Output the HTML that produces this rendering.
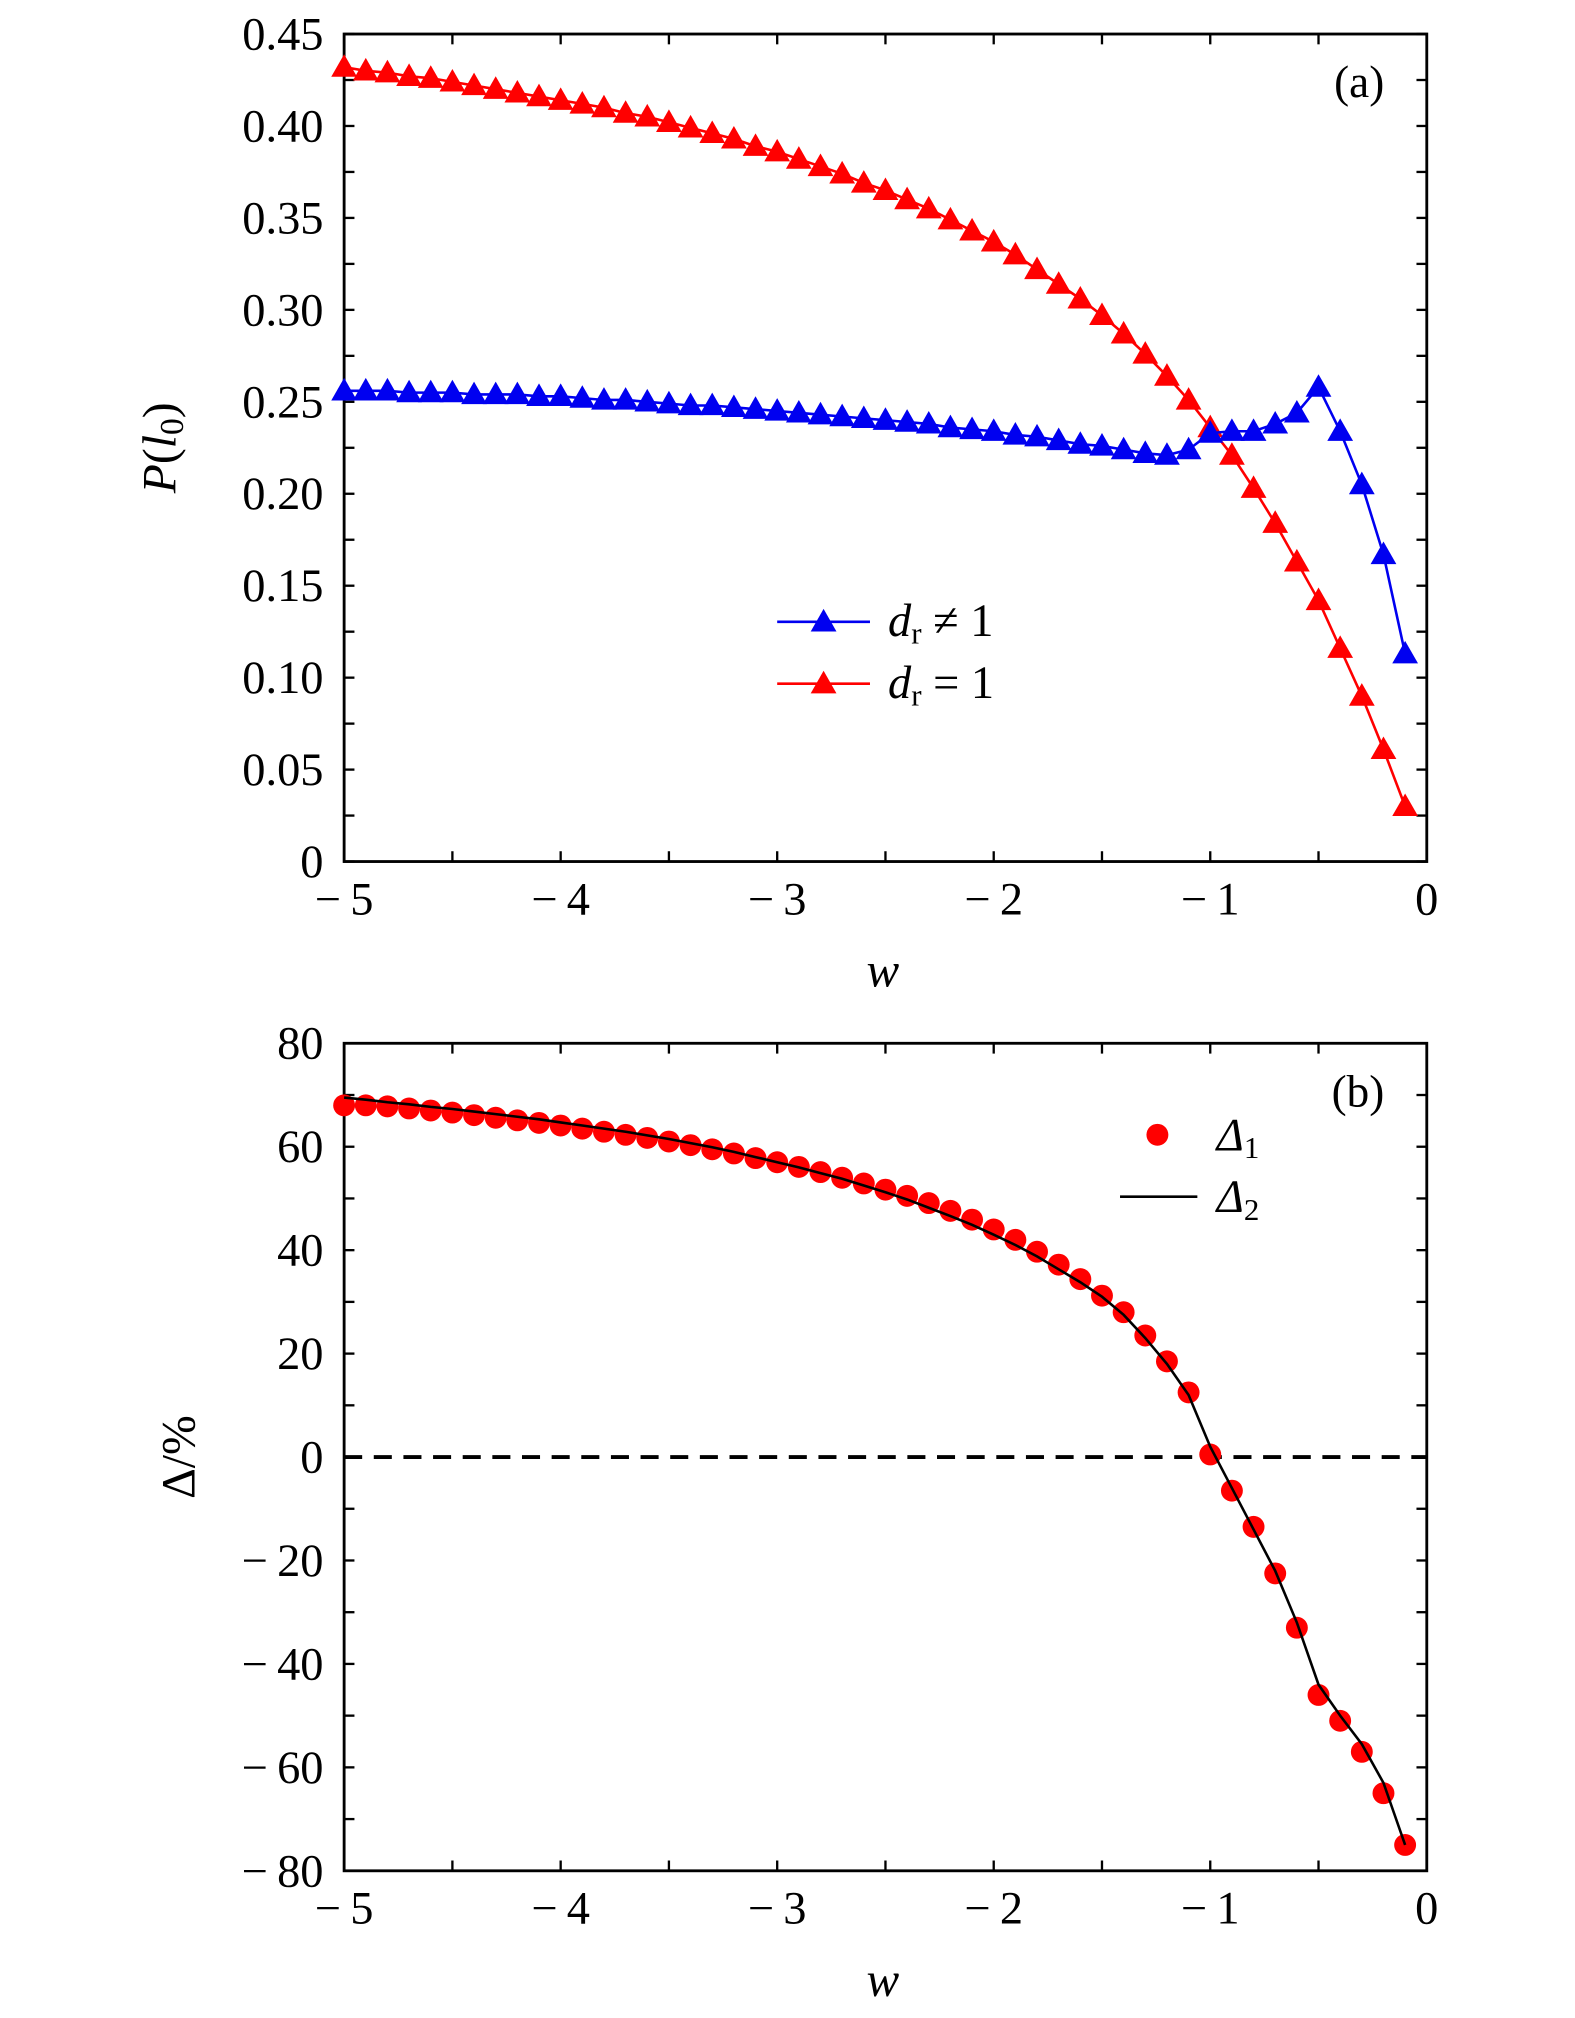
<!DOCTYPE html>
<html><head><meta charset="utf-8"><style>html,body{margin:0;padding:0;background:#fff}svg{display:block}text{font-family:"Liberation Serif",serif;fill:#000}</style></head>
<body>
<svg id="chart" width="1575" height="2018" viewBox="1 1.6 1222 1565.6" preserveAspectRatio="none" xmlns="http://www.w3.org/2000/svg"></svg>
<script>
const xValues=[-5,-4.9,-4.8,-4.7,-4.6,-4.5,-4.4,-4.3,-4.2,-4.1,-4,-3.9,-3.8,-3.7,-3.6,-3.5,-3.4,-3.3,-3.2,-3.1,-3,-2.9,-2.8,-2.7,-2.6,-2.5,-2.4,-2.3,-2.2,-2.1,-2,-1.9,-1.8,-1.7,-1.6,-1.5,-1.4,-1.3,-1.2,-1.1,-1,-0.9,-0.8,-0.7,-0.6,-0.5,-0.4,-0.3,-0.2,-0.1];
const redA=[0.432,0.430,0.429,0.427,0.426,0.424,0.422,0.420,0.418,0.416,0.414,0.412,0.410,0.407,0.405,0.402,0.399,0.396,0.393,0.389,0.386,0.382,0.378,0.374,0.369,0.365,0.360,0.355,0.349,0.343,0.337,0.330,0.322,0.314,0.306,0.297,0.287,0.276,0.264,0.251,0.236,0.221,0.203,0.184,0.163,0.142,0.116,0.090,0.061,0.030];
const blueA=[0.256,0.256,0.256,0.255,0.255,0.255,0.254,0.254,0.254,0.253,0.253,0.252,0.251,0.251,0.250,0.249,0.248,0.248,0.247,0.246,0.245,0.244,0.243,0.242,0.241,0.240,0.239,0.238,0.236,0.235,0.234,0.232,0.231,0.229,0.227,0.226,0.224,0.222,0.221,0.224,0.233,0.234,0.234,0.238,0.244,0.258,0.234,0.205,0.167,0.113];
const delta1=[68,68,67.8,67.4,67,66.6,66.1,65.6,65.1,64.6,64.1,63.5,62.9,62.3,61.7,61,60.3,59.5,58.7,57.8,57,56.1,55.1,54,52.9,51.7,50.5,49.1,47.6,45.9,44,42,39.7,37.2,34.4,31.2,28,23.5,18.5,12.5,0.5,-6.5,-13.5,-22.5,-33,-46,-51,-57,-65,-75];
const delta2=[69.5,69.1,68.6,68.2,67.7,67.3,66.8,66.3,65.8,65.3,64.7,64.1,63.5,62.9,62.2,61.5,60.7,59.9,59,58,57,56,54.9,53.8,52.5,51.2,49.8,48.2,46.6,44.9,43,41,38.8,36.3,33.8,31,27.5,23,18,12,2,-6,-14,-22,-32,-44,-50,-55.5,-63,-75];
const xTicks=[-5,-4,-3,-2,-1,0];
const aTicks=[0,0.05,0.10,0.15,0.20,0.25,0.30,0.35,0.40,0.45];
const aTickLabels=["0","0.05","0.10","0.15","0.20","0.25","0.30","0.35","0.40","0.45"];
const bTicks=[-80,-60,-40,-20,0,20,40,60,80];

const svg=document.getElementById('chart');
const NS='http://www.w3.org/2000/svg';
const RED='#ff0000',BLUE='#0000f0';
function mk(tag,attrs,parent){const e=document.createElementNS(NS,tag);for(const k in attrs)e.setAttribute(k,attrs[k]);(parent||svg).appendChild(e);return e;}
const L=268,R=1108;
const sx=v=>L+(v+5)/5*(R-L);
const syA=v=>670-(v/0.45)*(670-28);
const syB=v=>1132-v*(1453-811)/160;
function minus(v){return v<0?'\u2212\u2009'+Math.abs(v):String(v);}
function tri(x,y,c,name){const s=10;const p=mk('polygon',{points:`${x},${y-s} ${x-s},${y+s*0.75} ${x+s},${y+s*0.75}`,fill:c});return p;}
function axes(top,bottom,sy,ticks,labels,tag){
  const r=mk('rect',{x:L,y:top,width:R-L,height:bottom-top,fill:'none',stroke:'#000','stroke-width':2.2});
  
  for(let i=0;i<=50;i+=5){const v=-5+i*0.1;const x=sx(v);
    mk('line',{x1:x,x2:x,y1:bottom,y2:bottom-8,stroke:'#000','stroke-width':1.8});
    mk('line',{x1:x,x2:x,y1:top,y2:top+8,stroke:'#000','stroke-width':1.8});}
  xTicks.forEach(v=>{const t=mk('text',{x:sx(v),y:bottom+41,'text-anchor':'middle','font-size':36});t.textContent=minus(v);
    });
  ticks.forEach((v,i)=>{const y=sy(v);
    mk('line',{x1:L,x2:L+8,y1:y,y2:y,stroke:'#000','stroke-width':1.8});
    mk('line',{x1:R,x2:R-8,y1:y,y2:y,stroke:'#000','stroke-width':1.8});
    if(i<ticks.length-1){const m=sy((v+ticks[i+1])/2);mk('line',{x1:L,x2:L+8,y1:m,y2:m,stroke:'#000','stroke-width':1.8});mk('line',{x1:R,x2:R-8,y1:m,y2:m,stroke:'#000','stroke-width':1.8});}
    const t=mk('text',{x:252,y:y+12,'text-anchor':'end','font-size':36});t.textContent=labels[i];
    });
  const xt=mk('text',{x:686,y:bottom+97,'text-anchor':'middle','font-size':38,'font-style':'italic'});xt.textContent='w';
  
}
axes(28,670,syA,aTicks,aTickLabels,'panel-a');
const ya=mk('text',{transform:'translate(137,349) rotate(-90)','text-anchor':'middle','font-size':37});
ya.innerHTML='<tspan font-style="italic">P</tspan>(<tspan font-style="italic">l</tspan><tspan font-size="26" dy="6">0</tspan><tspan dy="-6">)</tspan>';

const la=mk('text',{x:1075,y:77,'text-anchor':'end','font-size':35});la.textContent='(a)';

[[redA,RED,'red-series'],[blueA,BLUE,'blue-series']].forEach(([d,c,n])=>{
  const pl=mk('polyline',{points:d.map((v,i)=>sx(xValues[i])+','+syA(v)).join(' '),fill:'none',stroke:c,'stroke-width':2});
  
  d.forEach((v,i)=>tri(sx(xValues[i]),syA(v),c,n+'-marker'));
});
mk('line',{x1:604,x2:676,y1:484,y2:484,stroke:BLUE,'stroke-width':2});tri(640,484,BLUE,'legend-blue-marker');
mk('line',{x1:604,x2:676,y1:532,y2:532,stroke:RED,'stroke-width':2});tri(640,532,RED,'legend-red-marker');
const l1=mk('text',{x:690,y:495,'font-size':36});l1.innerHTML='<tspan font-style="italic">d</tspan><tspan font-size="24" dy="6">r</tspan><tspan dy="-6"> ≠ 1</tspan>';

const l2=mk('text',{x:690,y:543,'font-size':36});l2.innerHTML='<tspan font-style="italic">d</tspan><tspan font-size="24" dy="6">r</tspan><tspan dy="-6"> = 1</tspan>';

axes(811,1453,syB,bTicks,bTicks.map(minus),'panel-b');
const yb=mk('text',{transform:'translate(152,1132) rotate(-90)','text-anchor':'middle','font-size':37});yb.textContent='Δ/%';

const lb=mk('text',{x:1075,y:860,'text-anchor':'end','font-size':35});lb.textContent='(b)';

const zl=mk('line',{x1:L,x2:R,y1:syB(0),y2:syB(0),stroke:'#000','stroke-width':3,'stroke-dasharray':'14,9'});

delta1.forEach((v,i)=>{const c=mk('circle',{cx:sx(xValues[i]),cy:syB(v),r:8.5,fill:RED});
  });
const d2=mk('polyline',{points:delta2.map((v,i)=>sx(xValues[i])+','+syB(v)).join(' '),fill:'none',stroke:'#000','stroke-width':2});

mk('circle',{cx:899,cy:882,r:8.5,fill:RED});
mk('line',{x1:870,x2:930,y1:930,y2:930,stroke:'#000','stroke-width':2});
const l3=mk('text',{x:945,y:894,'font-size':36});l3.innerHTML='<tspan font-style="italic">Δ</tspan><tspan font-size="24" dy="6">1</tspan>';

const l4=mk('text',{x:945,y:942,'font-size':36});l4.innerHTML='<tspan font-style="italic">Δ</tspan><tspan font-size="24" dy="6">2</tspan>';

</script>
</body></html>
